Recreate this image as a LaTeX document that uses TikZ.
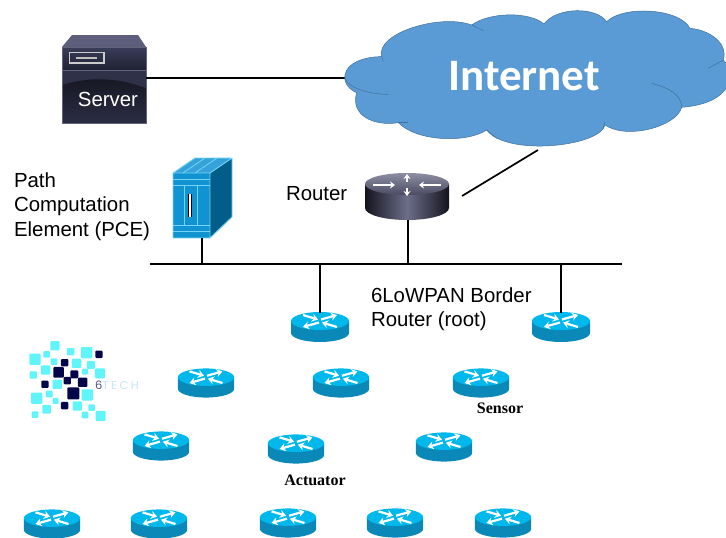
\documentclass[tikz,border=0pt]{standalone}
\usepackage{fontspec}
\setmainfont{Liberation Sans}
\newfontfamily\cloudfont{Carlito}
\newfontfamily\labelfont{Liberation Serif}
\newfontfamily\logofont[LetterSpace=22]{Poppins}
\usetikzlibrary{arrows.meta}
\definecolor{cloudfill}{HTML}{5B9BD5}
\definecolor{cloudedge}{HTML}{41719C}
\definecolor{rtop}{HTML}{00B8EC}
\definecolor{rside}{HTML}{0A89B8}
\definecolor{logocyan}{HTML}{5FF5FA}
\definecolor{logonavy}{HTML}{05054A}
\definecolor{logopale}{HTML}{C4E6F6}
\definecolor{srvdark}{HTML}{14141F}
\definecolor{srvmid}{HTML}{3A3D5A}
\definecolor{srvtop}{HTML}{5C5E7C}
\definecolor{pcefront}{HTML}{1193D2}
\definecolor{pceside}{HTML}{005E88}
\definecolor{pceedge}{HTML}{74D4F6}
\tikzset{
    link/.style={draw=black,line width=1.7pt},
    caption/.style={align=left,anchor=north west,font=\fontsize{20.4}{24.6}\selectfont},
    smalltag/.style={font=\labelfont\bfseries\fontsize{16}{18}\selectfont},
    rarrow/.style={draw=white,line width=2.2pt,-{Stealth[length=6pt,width=8pt]}},
    router/.pic={
        \fill[rside] (-29,-6) -- (-29,6) arc[start angle=180,end angle=360,x radius=29pt,y radius=9pt] -- (29,-6) -- cycle;
        \fill[rtop] (0,-6) ellipse[x radius=29pt,y radius=9pt];
        \draw[rarrow] (-17,-12) -- (-2,-7.5);
        \draw[rarrow] (17,0) -- (2,-4.5);
        \draw[rarrow] (1,-7.5) -- (17,-12);
        \draw[rarrow] (-1,-4.5) -- (-17,0);
        \coordinate (-top) at (0,-14);
    },
}
\begin{document}
\begin{tikzpicture}[x=1pt,y=-1pt]
\clip (0,0) rectangle (726,538);

\coordinate (busL) at (150,264);
\coordinate (busR) at (622,264);
\coordinate (cloudL) at (346,78);
\coordinate (cloudB) at (538,150);
\coordinate (gwR) at (462,196);
\coordinate (pceFoot) at (202,238);
\coordinate (gwFoot) at (408,220);

\fill[srvtop] (62,47) -- (72,35) -- (138,35) -- (146,47) -- cycle;
\shade[top color=srvmid,bottom color=srvdark!70!srvmid] (62,47) rectangle (146,70.5);
\shade[top color=srvdark,bottom color=srvmid!60!srvdark] (62,70.5) rectangle (146,123);
\fill[srvmid!70!srvdark] (62,70.5) -- (146,70.5) -- (146,88) .. controls (120,78) and (90,76) .. (62,85) -- cycle;
\draw[srvmid!80!white,line width=0.8pt] (62,70.5) -- (146,70.5);
\draw[srvmid!80!white,line width=0.6pt] (62,47) rectangle (146,123);
\draw[white!80!black,line width=1.3pt] (69.5,52.5) rectangle (104,63);
\draw[white!75!black,line width=1.3pt] (76,58) -- (97,58);
\node[minimum width=84pt,minimum height=76pt,inner sep=0pt] (server) at (104,85) {};
\node[text=white,font=\fontsize{20.4}{24}\selectfont] (serverlabel) at (108,99) {Server};

\fill[pceside] (210,173) -- (232,158) -- (232,217) -- (210,238) -- cycle;
\fill[pcefront!85!white] (173,173) -- (195,158) -- (232,158) -- (210,173) -- cycle;
\fill[pcefront] (173,173) rectangle (210,238);
\draw[pceedge,line width=0.9pt] (173,173) -- (195,158) -- (232,158) -- (232,217) -- (210,238) -- (173,238) -- cycle (173,173) -- (210,173) -- (232,158) (210,173) -- (210,238);
\foreach \ypos in {179,185,225,231}
    \draw[pceedge,line width=0.8pt] (173,\ypos) -- (210,\ypos);
\draw[pceedge,line width=0.8pt] (184,185) -- (184,225) (197,185) -- (197,225);
\draw[pceedge,line width=0.8pt] (183,173) -- (205,158) (195,173) -- (217,158);
\fill[black] (188,194) rectangle (192,217);
\fill[white] (188.5,194) rectangle (190.5,217);
\node[minimum width=37pt,minimum height=65pt,inner sep=0pt] (pce) at (191.5,205.5) {};

\shade[left color=srvdark,right color=srvdark,middle color=srvtop!90!white] (365,184) -- (365,208) arc[start angle=180,end angle=360,x radius=42pt,y radius=12pt] -- (449,184) -- cycle;
\shade[top color=srvtop!70!white,bottom color=srvtop!80!black] (407,184) ellipse[x radius=42pt,y radius=11pt];
\foreach \xa/\ya/\xb/\yb in {373/185/395/185,441/185/419/185,407/182/407/174,407/188/407/196}
    \draw[draw=white,line width=2pt,-{Stealth[length=5pt,width=7pt]}] (\xa,\ya) -- (\xb,\yb);
\node[minimum width=84pt,minimum height=47pt,inner sep=0pt] (gw) at (407,198) {};

\draw[link] (server.east |- cloudL) -- (cloudL);
\draw[link] (gwR) -- (cloudB);
\draw[link] (busL) -- (busR);
\draw[link] (pceFoot) -- (pceFoot |- busL);
\draw[link] (gwFoot) -- (gwFoot |- busL);

\begin{scope}[shift={(340,0)},x=0.3333pt,y=-0.3333pt]
\draw[fill=cloudfill,draw=cloudedge,line width=0.5pt]
    (15,225) .. controls (20,190) and (70,170) .. (125,170)
    .. controls (105,100) and (300,40) .. (395,75)
    .. controls (450,35) and (570,35) .. (612,72)
    .. controls (650,20) and (770,20) .. (800,65)
    .. controls (850,15) and (1020,25) .. (1050,85)
    .. controls (1110,90) and (1165,130) .. (1150,180)
    .. controls (1190,220) and (1180,310) .. (1025,322)
    .. controls (1010,380) and (860,420) .. (795,375)
    .. controls (780,440) and (500,470) .. (440,390)
    .. controls (380,430) and (230,425) .. (175,368)
    .. controls (100,380) and (30,345) .. (50,278)
    .. controls (30,270) and (10,250) .. (15,225) -- cycle;
\draw[draw=cloudedge,line width=0.5pt] (15,235) .. controls (25,265) and (90,283) .. (145,283);
\draw[draw=cloudedge,line width=0.5pt] (125,170) -- (130,185);
\draw[draw=cloudedge,line width=0.5pt] (395,75) -- (430,92);
\draw[draw=cloudedge,line width=0.5pt] (1150,180) -- (1105,205);
\draw[draw=cloudedge,line width=0.5pt] (1025,322) .. controls (1025,285) and (990,265) .. (935,250);
\draw[draw=cloudedge,line width=0.5pt] (175,368) -- (205,368);
\draw[draw=cloudedge,line width=0.5pt] (795,365) -- (790,385);
\draw[draw=cloudedge,line width=0.5pt] (440,390) -- (470,415);
\end{scope}
\node[text=white,font=\cloudfont\bfseries\fontsize{45}{50}\selectfont] (cloud) at (524,76) {Internet};

\foreach \name/\xpos/\ypos/\size in {r1/320/327/1,r2/561/327/1,
    r3/206/383/0.97,r4/341/383/0.97,r5/481/383/0.97,
    r6/161/446/0.97,r7/296/449/0.97,r8/444/447/0.97,
    r9/52/524/0.97,r10/159/524/0.97,r11/288/523/0.97,r12/395/523/0.97,r13/503/523/0.97}
    \pic[scale=\size] (\name) at (\xpos,\ypos) {router};

\draw[link] (r1-top) -- (r1-top |- busL);
\draw[link] (r2-top) -- (r2-top |- busL);

\node[caption] (pcelabel) at (10.5,169) {Path\\Computation\\Element (PCE)};
\node[caption] (gwlabel) at (282.5,183) {Router};
\node[caption] (rootlabel) at (367.5,284) {6LoWPAN Border\\Router (root)};
\node[smalltag] (sensorlabel) at (500,408) {Sensor};
\node[smalltag] (actuatorlabel) at (315,480) {Actuator};

\begin{scope}[shift={(10,330)},x=0.3333pt,y=-0.3333pt]
\foreach \xpos/\ypos/\size in {135/47/28,182/65/22,230/68/34,75/88/34,110/73/20,132/95/20,107/120/28,70/135/22,200/100/28,243/105/24,270/130/30,225/125/18,142/163/28,118/192/20,80/205/34,137/213/18,110/238/26,75/254/20,232/195/34,202/228/28,245/233/20,225/255/20,272/258/30}
    \fill[logocyan,rounded corners=1pt] (\xpos-\size/2,\ypos-\size/2) rectangle (\xpos+\size/2,\ypos+\size/2);
\foreach \xpos/\ypos/\size in {267/73/22,164/98/22,146/127/32,193/133/24,172/152/22,218/157/28,190/190/36,105/163/22,164/227/22}
    \fill[logonavy,rounded corners=1pt] (\xpos-\size/2,\ypos-\size/2) rectangle (\xpos+\size/2,\ypos+\size/2);
\end{scope}
\node[inner sep=0pt,font=\logofont\fontsize{11.5}{13}\selectfont] (logotext) at (117,385.5) {\textcolor{logonavy!70!white}{6}\textcolor{logopale}{TECH}};
\end{tikzpicture}
\end{document}
